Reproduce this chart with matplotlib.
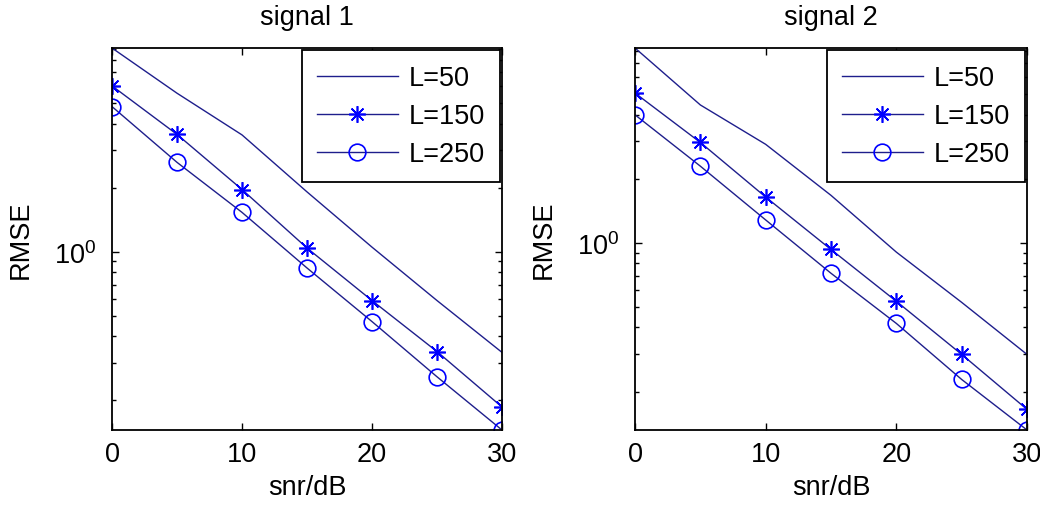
import numpy as np
import matplotlib
matplotlib.use("Agg")
import matplotlib.pyplot as plt
import matplotlib.ticker as ticker


plt.rcParams["font.family"] = ["Liberation Sans", "DejaVu Sans"]
plt.rcParams["mathtext.fontset"] = "custom"
plt.rcParams["mathtext.rm"] = "Liberation Sans"

# SNR grid (dB)
SNR = [0, 5, 10, 15, 20, 25, 30]
LABELS = ["L=50", "L=150", "L=250"]

# RMSE
sig1_L50 = [9.07, 5.56, 3.54, 1.91, 1.05, 0.589, 0.336]
sig1_L150 = [6.02, 3.56, 1.96, 1.04, 0.589, 0.339, 0.186]
sig1_L250 = [4.81, 2.63, 1.53, 0.838, 0.469, 0.258, 0.145]

sig2_L50 = [8.22, 4.44, 2.90, 1.67, 0.904, 0.525, 0.299]
sig2_L150 = [5.05, 2.96, 1.64, 0.930, 0.531, 0.299, 0.165]
sig2_L250 = [3.99, 2.29, 1.28, 0.719, 0.418, 0.228, 0.132]

TITLES = ["signal 1", "signal 2"]

LINE_C = "#1e1e8c"
MARK_C = "#0000ff"
FS = 19.5


def draw_panel(ax, l50, l150, l250, title):
    ax.plot(SNR, l50, color=LINE_C, lw=1.0, label=LABELS[0])
    ax.plot(SNR, l150, color=LINE_C, lw=1.0, marker=(8, 2, 0), ms=12,
            mec=MARK_C, mfc=MARK_C, mew=1.2, label=LABELS[1])
    ax.plot(SNR, l250, color=LINE_C, lw=1.0, marker="o", ms=12,
            mec=MARK_C, mfc="none", mew=1.2, label=LABELS[2])

    ax.set_yscale("log")
    ax.set_xlim(SNR[0], SNR[-1])
    allv = l50 + l150 + l250
    ax.set_ylim(min(allv), max(allv))

    ax.set_xticks([0, 10, 20, 30])
    ax.yaxis.set_minor_formatter(ticker.NullFormatter())
    ax.tick_params(which="both", direction="in", top=True, right=True,
                   labelsize=FS, width=1)
    ax.tick_params(which="major", length=5)
    ax.tick_params(which="minor", length=3)
    ax.tick_params(axis="x", pad=8)
    ax.tick_params(axis="y", pad=11)

    for s in ax.spines.values():
        s.set_linewidth(1.3)

    ax.set_title(title, fontsize=FS, pad=17)
    ax.set_xlabel("snr/dB", fontsize=FS, labelpad=5)
    ax.set_ylabel("RMSE", fontsize=FS)
    ax.yaxis.set_label_coords(-0.2, 0.5)

    leg = ax.legend(loc="upper right", fontsize=FS, fancybox=False,
                    framealpha=1, edgecolor="black", borderaxespad=0.08,
                    handlelength=3.0, labelspacing=0.45, handletextpad=0.4,
                    borderpad=0.55)
    leg.get_frame().set_linewidth(1.3)


fig = plt.figure(figsize=(10.4, 5.1), dpi=100)
ax1 = fig.add_axes([0.1077, 0.1549, 0.375, 0.749])
ax2 = fig.add_axes([0.6106, 0.1549, 0.3769, 0.749])

draw_panel(ax1, sig1_L50, sig1_L150, sig1_L250, TITLES[0])
draw_panel(ax2, sig2_L50, sig2_L150, sig2_L250, TITLES[1])

fig.savefig("out.png", dpi=100)
